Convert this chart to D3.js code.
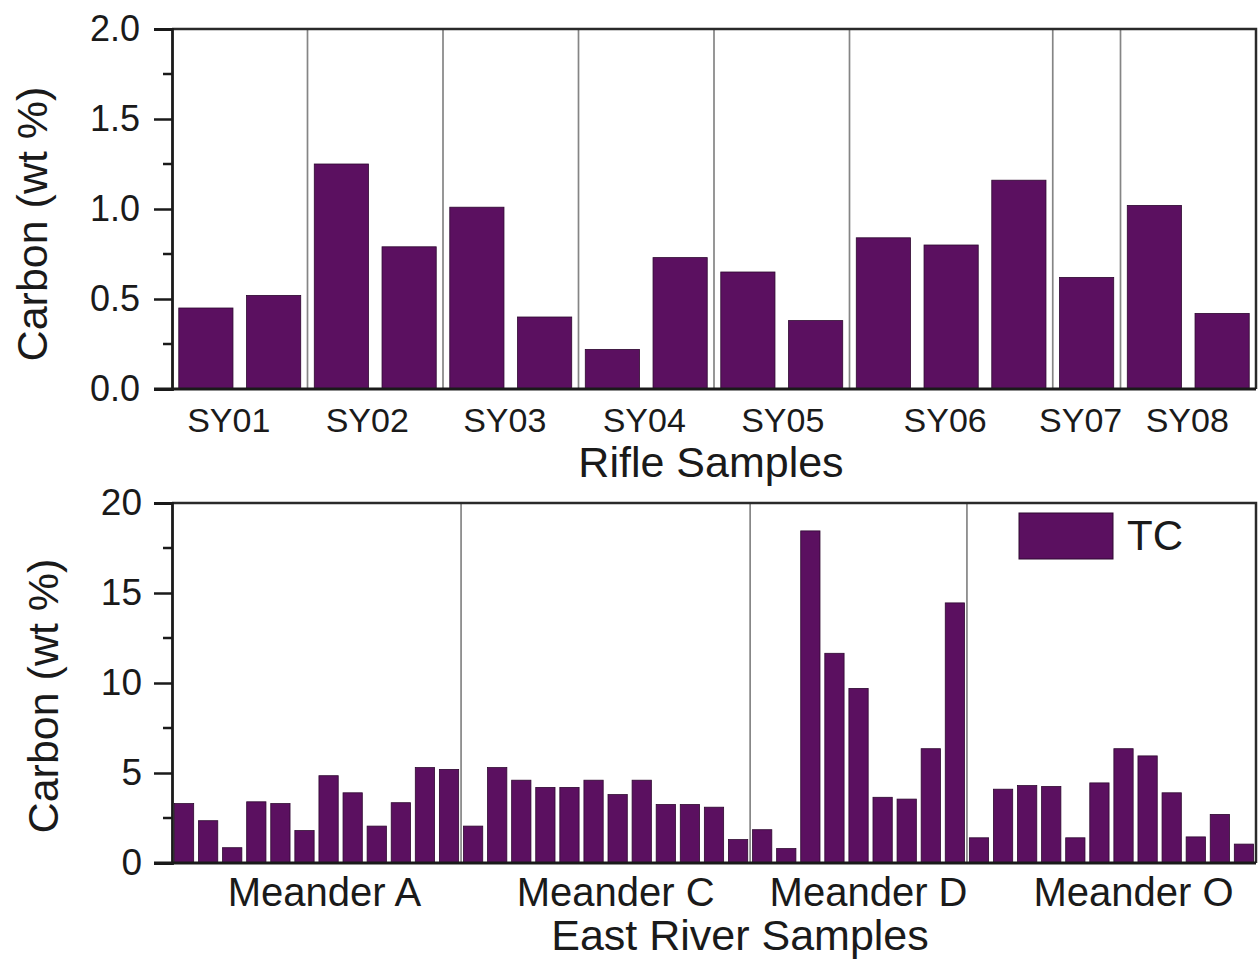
<!DOCTYPE html>
<html>
<head>
<meta charset="utf-8">
<script src="https://cdn.jsdelivr.net/npm/d3@7"></script>
<style>
  body { margin: 0; background: #fff; }
  svg { display: block; }
  text { font-family: "Liberation Sans", Arial, sans-serif; fill: #1a1a1a; }
</style>
</head>
<body>
<div id="chart"></div>
<script>
// Rifle samples: sites, number of bars per site, TC values in order
const rifleSites = ["SY01", "SY02", "SY03", "SY04", "SY05", "SY06", "SY07", "SY08"]
const rifleCounts = [2, 2, 2, 2, 2, 3, 1, 2]
const rifleTC = [0.45, 0.52, 1.25, 0.79, 1.01, 0.40, 0.22, 0.73, 0.65, 0.38, 0.84, 0.80, 1.16, 0.62, 1.02, 0.42]
const rifleTicks = [0, 0.5, 1.0, 1.5, 2.0]

// East River samples
const meanders = ["Meander A", "Meander C", "Meander D", "Meander O"]
const meanderCounts = [12, 12, 9, 12]
const eastTC = [
  3.3, 2.35, 0.85, 3.4, 3.3, 1.8, 4.85, 3.9, 2.05, 3.35, 5.3, 5.2,
  2.05, 5.3, 4.6, 4.2, 4.2, 4.6, 3.8, 4.6, 3.25, 3.25, 3.1, 1.3,
  1.85, 0.8, 18.45, 11.65, 9.7, 3.65, 3.55, 6.35, 14.45,
  1.4, 4.1, 4.3, 4.25, 1.4, 4.45, 6.35, 5.95, 3.9, 1.45, 2.7, 1.05
]
const eastTicks = [0, 5, 10, 15, 20]

const W = 1258, H = 964
const barFill = "#5b1060"
const barStroke = "#2e0830"

const svg = d3.select("#chart").append("svg")
  .attr("width", W)
  .attr("height", H)

function groupBounds(counts) {
  let out = [], start = 0
  counts.forEach(c => { out.push([start, start + c]); start += c })
  return out
}

function drawPanel(opts) {
  let g = svg.append("g")
  let n = opts.values.length

  let x = d3.scaleBand()
    .domain(d3.range(n))
    .range([opts.left, opts.right])
    .paddingInner(0.2)
    .paddingOuter(0.1)

  let y = d3.scaleLinear()
    .domain(opts.domain)
    .range([opts.bottom, opts.top])

  // slot edge (between bars) for index i
  let edge = i => i < n ? x(i) - (x.step() - x.bandwidth()) / 2 : opts.right

  let groups = groupBounds(opts.counts)

  // group separators
  g.selectAll(".sep")
    .data(groups.slice(1))
    .enter().append("line")
    .attr("class", "sep")
    .attr("x1", d => edge(d[0]))
    .attr("x2", d => edge(d[0]))
    .attr("y1", opts.top)
    .attr("y2", opts.bottom)
    .attr("stroke", "#858585")
    .attr("stroke-width", 1.7)

  g.selectAll(".bar")
    .data(opts.values)
    .enter().append("rect")
    .attr("class", "bar")
    .attr("x", (d, i) => x(i))
    .attr("width", x.bandwidth())
    .attr("y", d => y(d))
    .attr("height", d => y(opts.domain[0]) - y(d))
    .attr("fill", barFill)
    .attr("stroke", barStroke)
    .attr("stroke-width", 0.8)

  // frame: top and right
  g.append("path")
    .attr("d", `M${opts.left},${opts.top}H${opts.right}V${opts.bottom}`)
    .attr("fill", "none")
    .attr("stroke", "#2a2a2a")
    .attr("stroke-width", 2.5)

  // y axis with minor ticks
  let yAxis = d3.axisLeft(y)
    .tickValues(opts.ticks)
    .tickFormat(opts.format)
    .tickSize(18)
    .tickPadding(opts.yPad)
  let ya = g.append("g")
    .attr("transform", `translate(${opts.left},0)`)
    .call(yAxis)
  let minors = d3.pairs(opts.ticks).map(p => (p[0] + p[1]) / 2)
  ya.selectAll(".minor")
    .data(minors)
    .enter().append("line")
    .attr("class", "minor")
    .attr("x1", -9)
    .attr("x2", 0)
    .attr("y1", d => y(d))
    .attr("y2", d => y(d))
    .attr("stroke", "#1a1a1a")
    .attr("stroke-width", 2.5)
  ya.select(".domain").attr("stroke", "#1a1a1a").attr("stroke-width", 2.8)
  ya.selectAll(".tick line").attr("stroke", "#1a1a1a").attr("stroke-width", 2.5)
  ya.selectAll(".tick text")
    .attr("font-size", opts.yFont)
    .attr("font-family", "Liberation Sans, Arial, sans-serif")
    .attr("fill", "#1a1a1a")

  // bottom axis line
  g.append("line")
    .attr("x1", opts.left - 18)
    .attr("x2", opts.right)
    .attr("y1", opts.bottom)
    .attr("y2", opts.bottom)
    .attr("stroke", "#1a1a1a")
    .attr("stroke-width", 2.8)

  // group labels
  g.selectAll(".glabel")
    .data(groups)
    .enter().append("text")
    .attr("class", "glabel")
    .attr("x", (d, i) => (edge(d[0]) + edge(d[1])) / 2 + opts.labelShift[i])
    .attr("y", opts.labelY)
    .attr("text-anchor", "middle")
    .attr("font-size", opts.labelFont)
    .text((d, i) => opts.labels[i])

  // x title
  g.append("text")
    .attr("x", (opts.left + opts.right) / 2 + opts.titleShift)
    .attr("y", opts.titleY)
    .attr("text-anchor", "middle")
    .attr("font-size", 43)
    .text(opts.xTitle)

  // y title
  g.append("text")
    .attr("transform", `translate(${opts.yTitleX},${(opts.top + opts.bottom) / 2 + opts.yTitleShift}) rotate(-90)`)
    .attr("text-anchor", "middle")
    .attr("font-size", 43)
    .text("Carbon (wt %)")

  return {x, y, g}
}

drawPanel({
  values: rifleTC, counts: rifleCounts, labels: rifleSites,
  domain: [0, 2], ticks: rifleTicks, format: d3.format(".1f"),
  left: 172, right: 1256, top: 29, bottom: 389,
  yFont: 36, yPad: 14, labelFont: 34, labelY: 432,
  labelShift: [-11, -8, -6, -2, 1, -6, -6, -1],
  titleY: 477, titleShift: -3, xTitle: "Rifle Samples",
  yTitleX: 47, yTitleShift: 15
})

let east = drawPanel({
  values: eastTC, counts: meanderCounts, labels: meanders,
  domain: [0, 20], ticks: eastTicks, format: d3.format("d"),
  left: 172, right: 1256, top: 503, bottom: 863,
  yFont: 37, yPad: 12, labelFont: 40, labelY: 906,
  labelShift: [8, 10, 10, 22],
  titleY: 950, titleShift: 26, xTitle: "East River Samples",
  yTitleX: 58, yTitleShift: 13
})

// legend
let legend = east.g.append("g")
legend.append("rect")
  .attr("x", 1019)
  .attr("y", 513)
  .attr("width", 94)
  .attr("height", 46)
  .attr("fill", barFill)
  .attr("stroke", barStroke)
  .attr("stroke-width", 1)
legend.append("text")
  .attr("x", 1127)
  .attr("y", 550)
  .attr("font-size", 42)
  .text("TC")
</script>
</body>
</html>
